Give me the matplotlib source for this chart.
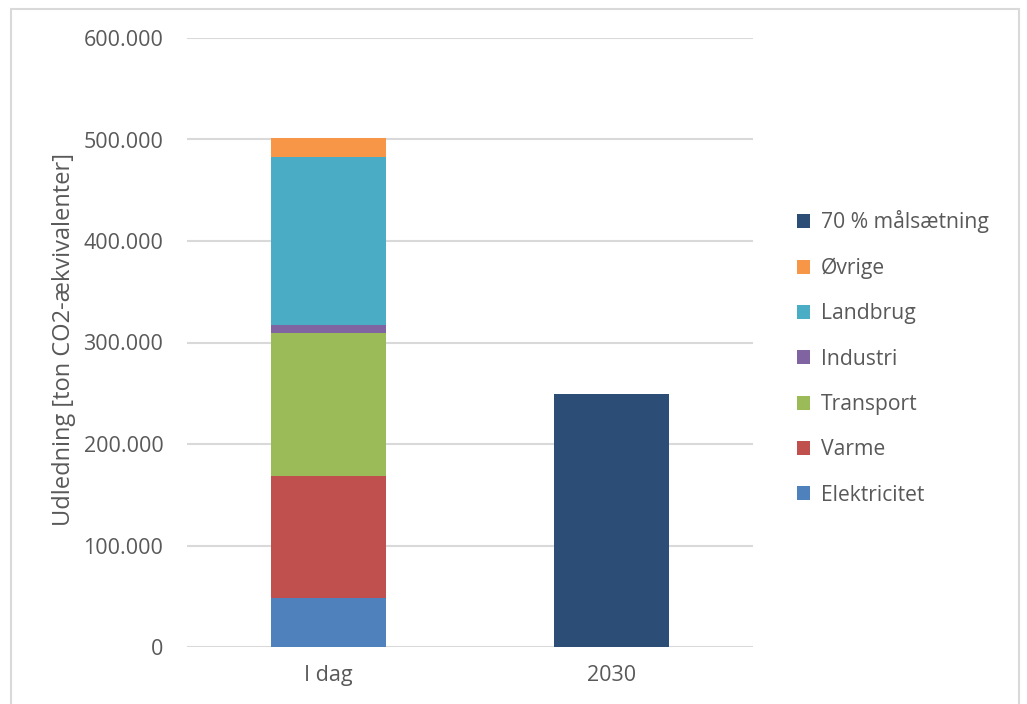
import matplotlib
matplotlib.use("Agg")
import matplotlib.pyplot as plt
from matplotlib.patches import Rectangle, Patch
from matplotlib.ticker import FuncFormatter
import numpy as np

# Emissions by sector today and the 2030 target (ton CO2-equivalents)
categories = ["I dag", "2030"]
sectors = ["Elektricitet", "Varme", "Transport", "Industri", "Landbrug", "Øvrige"]
today_values = [48500, 120000, 141000, 7500, 165500, 19000]
target_label = "70 % målsætning"
target_2030 = 249500
yticks = [0, 100000, 200000, 300000, 400000, 500000, 600000]

sector_colors = ["#4F81BD", "#C0504D", "#9BBB59", "#8064A2", "#4BACC6", "#F79646"]
target_color = "#2C4D75"
text_color = "#595959"
grid_color = "#D9D9D9"

plt.rcParams["font.family"] = ["Open Sans", "DejaVu Sans"]

W, H = 1027, 704
fig = plt.figure(figsize=(W / 100, H / 100), dpi=100)
fig.patch.set_facecolor("white")

# Chart area frame
fig.patches.append(Rectangle((11 / W, -0.05), (1019 - 11) / W, 1.05 - 9 / H,
                             transform=fig.transFigure, fill=False,
                             edgecolor=grid_color, linewidth=1.5))

ax = fig.add_axes([187 / W, 1 - 647 / H, (753 - 187) / W, (647 - 38) / H])
x = np.arange(len(categories))
width = 0.406

bottom = 0
for name, val, col in zip(sectors, today_values, sector_colors):
    ax.bar(x[0], val, width, bottom=bottom, color=col, label=name, zorder=3)
    bottom += val
ax.bar(x[1], target_2030, width, color=target_color, label=target_label, zorder=3)

ax.set_xlim(-0.5, 1.5)
ax.set_ylim(0, 600000)
ax.set_yticks(yticks)
ax.yaxis.set_major_formatter(FuncFormatter(lambda v, p: f"{int(v):,}".replace(",", ".")))
ax.set_xticks(x)
ax.set_xticklabels(categories)
ax.grid(axis="y", color=grid_color, linewidth=1.5, zorder=0)
for s in ax.spines.values():
    s.set_visible(False)
ax.tick_params(axis="both", length=0, labelsize=15.5, colors=text_color)
ax.tick_params(axis="y", pad=17)
ax.tick_params(axis="x", pad=13)

fig.text(64 / W, 1 - 340 / H, "Udledning [ton CO2-ækvivalenter]", rotation=90,
         ha="center", va="center", fontsize=17, color=text_color)

# Legend, top entry first
handles = [Patch(facecolor=target_color, label=target_label)]
for name, col in reversed(list(zip(sectors, sector_colors))):
    handles.append(Patch(facecolor=col, label=name))
leg = fig.legend(handles=handles, loc="center left",
                 bbox_to_anchor=(786 / W, 1 - 358 / H), frameon=False,
                 fontsize=15.2, handlelength=0.64, handleheight=0.64,
                 handletextpad=0.52, labelspacing=1.15, borderpad=0)
for t in leg.get_texts():
    t.set_color(text_color)

fig.savefig("out.png", dpi=100, facecolor="white")
